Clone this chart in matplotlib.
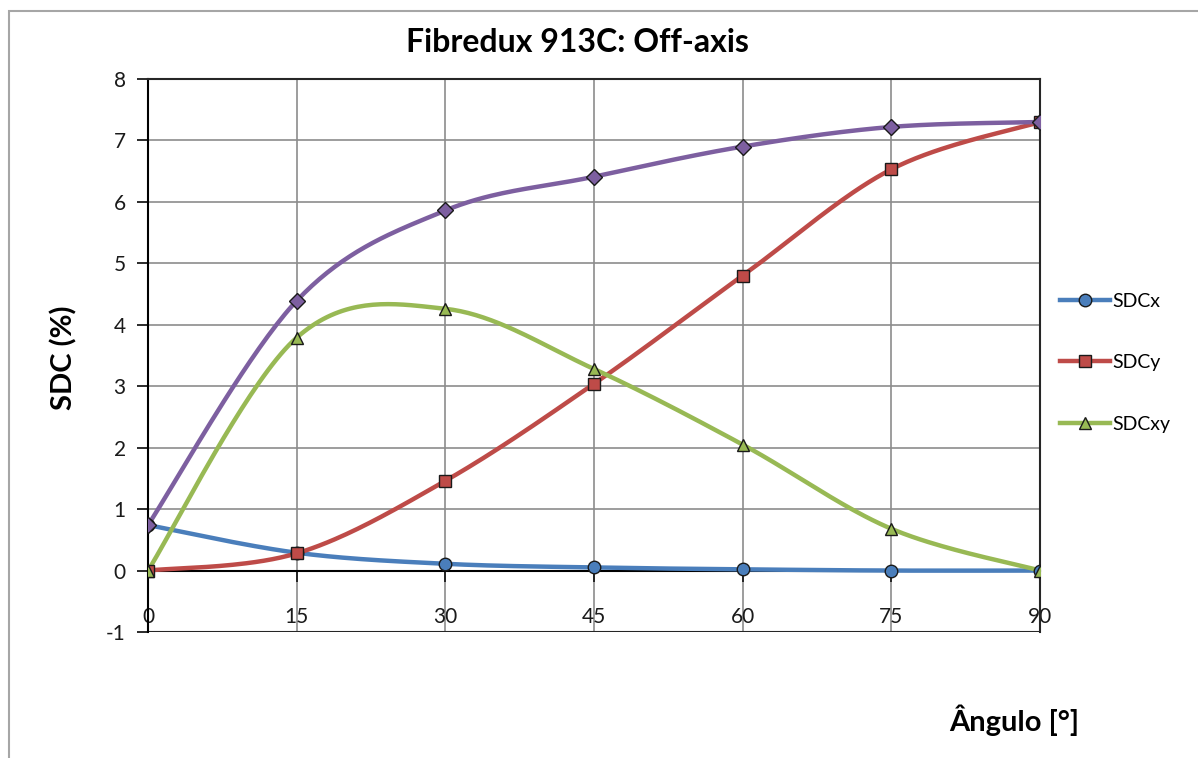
import matplotlib
matplotlib.use("Agg")
import matplotlib.pyplot as plt
import numpy as np
from matplotlib.patches import Rectangle

plt.rcParams['font.family'] = ['Lato', 'DejaVu Sans']
plt.rcParams['axes.unicode_minus'] = False

angles = [0, 15, 30, 45, 60, 75, 90]
sdc_x = [0.74, 0.29, 0.11, 0.05, 0.02, 0.0, 0.0]
sdc_y = [0.0, 0.28, 1.46, 3.04, 4.80, 6.53, 7.30]
sdc_xy = [0.0, 3.79, 4.26, 3.28, 2.05, 0.68, 0.0]
sdc_total = [0.74, 4.39, 5.86, 6.41, 6.90, 7.22, 7.30]


def smooth(xs, ys, n=40):
    # catmull-rom style smoothing, similar to Excel "smoothed line"
    xs = np.asarray(xs, float)
    ys = np.asarray(ys, float)
    px = np.concatenate([[xs[0]], xs, [xs[-1]]])
    py = np.concatenate([[ys[0]], ys, [ys[-1]]])
    out_x, out_y = [], []
    for i in range(1, len(px) - 2):
        p0 = np.array([px[i - 1], py[i - 1]])
        p1 = np.array([px[i], py[i]])
        p2 = np.array([px[i + 1], py[i + 1]])
        p3 = np.array([px[i + 2], py[i + 2]])
        c1 = p1 + (p2 - p0) / 6
        c2 = p2 - (p3 - p1) / 6
        t = np.linspace(0, 1, n)[:, None]
        b = ((1 - t) ** 3) * p1 + 3 * ((1 - t) ** 2) * t * c1 + 3 * (1 - t) * t ** 2 * c2 + t ** 3 * p2
        out_x.extend(b[:, 0])
        out_y.extend(b[:, 1])
    return out_x, out_y


fig = plt.figure(figsize=(11.98, 7.58), dpi=100)
ax = fig.add_axes([148 / 1198, 1 - 632 / 758, (1040 - 148) / 1198, (632 - 79) / 758])

# outer chart border
fig.patches.append(Rectangle((9 / 1198, -0.1), 1.2, 1 - 11 / 758 + 0.1,
                             transform=fig.transFigure, fill=False,
                             edgecolor='#a6a6a6', linewidth=1.5))

series = [
    (sdc_x, '#4a7ebb', 'o', 'SDCx'),
    (sdc_y, '#be4b48', 's', 'SDCy'),
    (sdc_xy, '#98b954', '^', 'SDCxy'),
    (sdc_total, '#7d5fa0', 'D', None),
]

for ys, col, mk, lab in series:
    sx, sy = smooth(angles, ys)
    ax.plot(sx, sy, color=col, lw=3.2, zorder=3, solid_capstyle='round')
    ax.plot(angles, ys, ls='none', marker=mk, ms=9 if mk != 'D' else 8,
            markerfacecolor=col, markeredgecolor='#1a1a1a', markeredgewidth=1.0, zorder=4)

# legend handles
for ys, col, mk, lab in series[:3]:
    ax.plot([], [], color=col, lw=3.2, marker=mk, ms=9, markerfacecolor=col,
            markeredgecolor='#1a1a1a', markeredgewidth=1.0, label=lab)

ax.set_xlim(0, 90)
ax.set_ylim(-1, 8)
ax.set_xticks(angles)
ax.set_yticks(range(-1, 9))
ax.grid(True, color='#8c8c8c', lw=1.2, zorder=0)
ax.set_axisbelow(True)

ax.spines['bottom'].set_position(('data', 0))
for s in ['top', 'right']:
    ax.spines[s].set_color('#262626')
    ax.spines[s].set_linewidth(1.5)
ax.spines['left'].set_linewidth(1.5)
ax.spines['bottom'].set_linewidth(1.5)
ax.axhline(-1, color='#262626', lw=1.5, zorder=1)

ax.tick_params(axis='both', direction='out', length=8, width=1.3, labelsize=15, colors='#1a1a1a')
ax.tick_params(axis='x', pad=18)
ax.tick_params(axis='y', pad=8)

fig.text(577 / 1198, 1 - 42 / 758, 'Fibredux 913C: Off-axis', ha='center', va='center',
         fontsize=23, fontweight='bold')
fig.text(64 / 1198, 1 - 358 / 758, 'SDC (%)', ha='center', va='center', rotation=90,
         fontsize=21, fontweight='bold')
fig.text(1014 / 1198, 1 - 720 / 758, 'Ângulo [°]', ha='center', va='center',
         fontsize=21, fontweight='bold')

fig.legend(loc='upper left', bbox_to_anchor=(1042 / 1198, 1 - 275 / 758), frameon=False,
           fontsize=14, labelspacing=2.3, handlelength=2.6, handletextpad=0.1)

fig.savefig('out.png', dpi=100)
